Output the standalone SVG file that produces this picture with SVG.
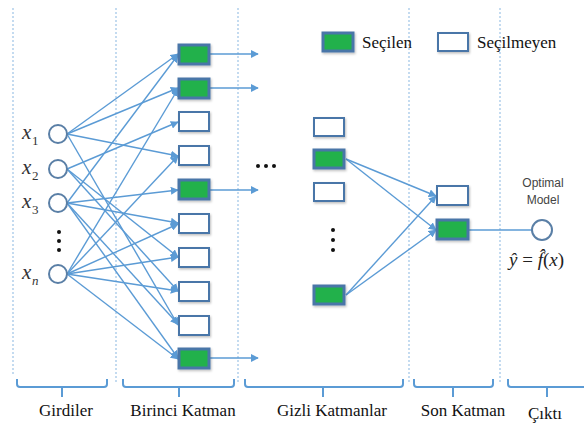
<svg xmlns="http://www.w3.org/2000/svg" width="584" height="429" viewBox="0 0 584 429">
<defs>
<marker id="ah" viewBox="0 0 10 10" refX="9" refY="5" markerWidth="8" markerHeight="8" markerUnits="userSpaceOnUse" orient="auto">
<path d="M0,0 L10,5 L0,10 z" fill="#5b9bd5"/>
</marker>
<filter id="sh" x="-20%" y="-20%" width="150%" height="160%">
<feDropShadow dx="1" dy="1.5" stdDeviation="1" flood-color="#000" flood-opacity="0.25"/>
</filter>
</defs>
<style>
.sep{stroke:#9dc3e6;stroke-width:1.2;stroke-dasharray:2,2;fill:none}
.e{stroke:#5b9bd5;stroke-width:1.4;fill:none;marker-end:url(#ah)}
.ln{stroke:#5b9bd5;stroke-width:1.4;fill:none}
.bx{fill:#fff;stroke:#4a76a8;stroke-width:2;filter:url(#sh)}
.gb{fill:#22b14c;stroke:#4a76a8;stroke-width:3;filter:url(#sh)}
.cir{fill:#fff;stroke:#5a7fa6;stroke-width:2}
.br{stroke:#5b9bd5;stroke-width:2;fill:none}
.dot{fill:#111}
</style>
<g id="separators">
<line class="sep" x1="13" y1="8" x2="13" y2="376"/>
<line class="sep" x1="116" y1="8" x2="116" y2="382"/>
<line class="sep" x1="238" y1="8" x2="238" y2="382"/>
<line class="sep" x1="409" y1="8" x2="409" y2="382"/>
<line class="sep" x1="500" y1="8" x2="500" y2="382"/>
</g>
<g id="connectors">
<line class="e" x1="67" y1="134" x2="178" y2="54"/>
<line class="e" x1="67" y1="134" x2="178" y2="88"/>
<line class="e" x1="67" y1="134" x2="178" y2="156"/>
<line class="e" x1="67" y1="134" x2="178" y2="325"/>
<line class="e" x1="67" y1="169" x2="178" y2="122"/>
<line class="e" x1="67" y1="169" x2="178" y2="257"/>
<line class="e" x1="67" y1="169" x2="178" y2="291"/>
<line class="e" x1="67" y1="203" x2="178" y2="55"/>
<line class="e" x1="67" y1="203" x2="178" y2="190"/>
<line class="e" x1="67" y1="203" x2="178" y2="223"/>
<line class="e" x1="67" y1="203" x2="178" y2="324"/>
<line class="e" x1="67" y1="203" x2="178" y2="358"/>
<line class="e" x1="67" y1="274" x2="178" y2="89"/>
<line class="e" x1="67" y1="274" x2="178" y2="156"/>
<line class="e" x1="67" y1="274" x2="178" y2="224"/>
<line class="e" x1="67" y1="274" x2="178" y2="257"/>
<line class="e" x1="67" y1="274" x2="178" y2="291"/>
<line class="e" x1="67" y1="274" x2="178" y2="359"/>
<line class="e" x1="210" y1="54" x2="258" y2="54"/>
<line class="e" x1="210" y1="88" x2="258" y2="88"/>
<line class="e" x1="210" y1="190" x2="258" y2="190"/>
<line class="e" x1="210" y1="358" x2="258" y2="358"/>
<line class="e" x1="346" y1="159" x2="436" y2="196"/>
<line class="e" x1="346" y1="159" x2="436" y2="230"/>
<line class="e" x1="346" y1="295" x2="436" y2="196"/>
<line class="e" x1="346" y1="295" x2="436" y2="230"/>
<line class="ln" x1="469" y1="230" x2="532" y2="230"/>
</g>
<g id="inputs" font-family="Liberation Serif, Times New Roman, serif" fill="#333">
<g id="x1"><circle class="cir" cx="58" cy="134" r="9"/><text x="22" y="139" font-size="21" font-style="italic">x</text><text x="32" y="145" font-size="13">1</text></g>
<g id="x2"><circle class="cir" cx="58" cy="169" r="9"/><text x="22" y="174" font-size="21" font-style="italic">x</text><text x="32" y="180" font-size="13">2</text></g>
<g id="x3"><circle class="cir" cx="58" cy="203" r="9"/><text x="22" y="208" font-size="21" font-style="italic">x</text><text x="32" y="214" font-size="13">3</text></g>
<g id="xdots"><circle class="dot" cx="59" cy="232" r="2"/><circle class="dot" cx="59" cy="241" r="2"/><circle class="dot" cx="59" cy="250" r="2"/></g>
<g id="xn"><circle class="cir" cx="58" cy="274" r="9"/><text x="22" y="279" font-size="21" font-style="italic">x</text><text x="32" y="285" font-size="13" font-style="italic">n</text></g>
</g>
<g id="layer1">
<rect id="b1" class="gb" x="179" y="45" width="30" height="19"/>
<rect id="b2" class="gb" x="179" y="79" width="30" height="19"/>
<rect id="b3" class="bx" x="179" y="112" width="30" height="19"/>
<rect id="b4" class="bx" x="179" y="146" width="30" height="19"/>
<rect id="b5" class="gb" x="179" y="180" width="30" height="19"/>
<rect id="b6" class="bx" x="179" y="214" width="30" height="19"/>
<rect id="b7" class="bx" x="179" y="248" width="30" height="19"/>
<rect id="b8" class="bx" x="179" y="282" width="30" height="19"/>
<rect id="b9" class="bx" x="179" y="316" width="30" height="19"/>
<rect id="b10" class="gb" x="179" y="349" width="30" height="19"/>
</g>
<g id="hdots"><circle class="dot" cx="258" cy="166" r="2"/><circle class="dot" cx="266" cy="166" r="2"/><circle class="dot" cx="274" cy="166" r="2"/></g>
<g id="hidden">
<rect id="h1" class="bx" x="314" y="118" width="30" height="18"/>
<rect id="h2" class="gb" x="314" y="150" width="30" height="18"/>
<rect id="h3" class="bx" x="314" y="183" width="30" height="18"/>
<g id="hvdots"><circle class="dot" cx="333" cy="230" r="2"/><circle class="dot" cx="333" cy="240" r="2"/><circle class="dot" cx="333" cy="250" r="2"/></g>
<rect id="h4" class="gb" x="314" y="286" width="30" height="18"/>
</g>
<g id="final">
<rect id="f1" class="bx" x="437" y="186" width="31" height="19"/>
<rect id="f2" class="gb" x="437" y="220" width="31" height="19"/>
</g>
<g id="output">
<text x="543" y="187" text-anchor="middle" font-family="Liberation Sans, Arial, sans-serif" font-size="12" fill="#444">Optimal</text>
<text x="543" y="204" text-anchor="middle" font-family="Liberation Sans, Arial, sans-serif" font-size="12" fill="#444">Model</text>
<circle class="cir" cx="542" cy="230" r="10"/>
<text x="509" y="266" font-family="Liberation Serif, Times New Roman, serif" font-size="19" fill="#222"><tspan font-style="italic">ŷ</tspan> = <tspan font-style="italic">f̂</tspan>(<tspan font-style="italic">x</tspan>)</text>
</g>
<g id="legend" font-family="Liberation Serif, Times New Roman, serif" font-size="17" fill="#111">
<rect class="gb" x="323" y="33" width="30" height="18"/>
<text x="362" y="48">Seçilen</text>
<rect class="bx" x="438" y="33" width="30" height="18"/>
<text x="477" y="48">Seçilmeyen</text>
</g>
<g id="braces">
<path class="br" d="M17,379 V384 Q17,387 20,387 H104 Q107,387 107,384 V379 M62,387 V397"/>
<path class="br" d="M123,379 V384 Q123,387 126,387 H231 Q234,387 234,384 V379 M179,387 V397"/>
<path class="br" d="M245,379 V384 Q245,387 248,387 H400 Q403,387 403,384 V379 M323,387 V397"/>
<path class="br" d="M414,379 V384 Q414,387 417,387 H490 Q493,387 493,384 V379 M453,387 V397"/>
<path class="br" d="M508,379 V384 Q508,387 511,387 H584 M547,387 V397"/>
</g>
<g id="labels" font-family="Liberation Serif, Times New Roman, serif" font-size="17" fill="#111" text-anchor="middle">
<text x="66" y="416">Girdiler</text>
<text x="183" y="416">Birinci Katman</text>
<text x="332" y="416">Gizli Katmanlar</text>
<text x="463" y="416">Son Katman</text>
<text x="545" y="419">Çıktı</text>
</g>
</svg>
